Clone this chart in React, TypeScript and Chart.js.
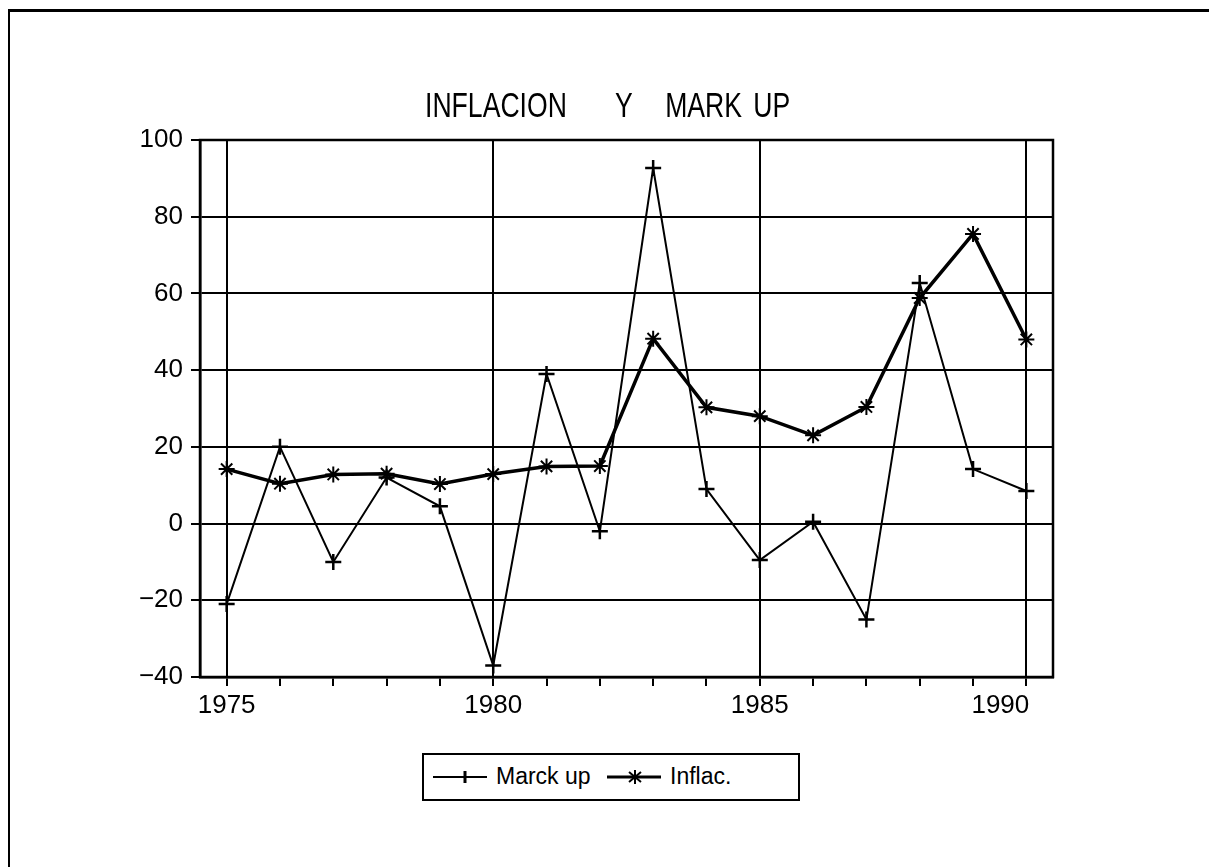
import React, { useEffect, useRef } from "react";
import { Chart, registerables } from "chart.js";

Chart.register(...registerables);

const years = [1975, 1976, 1977, 1978, 1979, 1980, 1981, 1982, 1983, 1984, 1985, 1986, 1987, 1988, 1989, 1990];
const markUp = [-21, 20, -10, 12, 4.5, -37, 39, -2, 92.7, 9, -9.5, 0.5, -25, 62.7, 14.2, 8.5];
const inflac = [14.2, 10.4, 12.8, 13, 10.3, 12.9, 14.9, 15, 48.2, 30.3, 28, 23, 30.4, 58.8, 75.5, 48];
const yTicks = [-40, -20, 0, 20, 40, 60, 80, 100];
const xLabelYears = [1975, 1980, 1985, 1990];
const seriesNames = ["Marck up", "Inflac."];
const titleWords = ["INFLACION", "Y", "MARK", "UP"];

const W = 1209;
const H = 867;

const framePlugin = {
  id: "frameBox",
  afterDraw(chart: any) {
    const { ctx, chartArea } = chart;
    ctx.save();
    ctx.strokeStyle = "#000";
    ctx.lineWidth = 2.5;
    ctx.strokeRect(chartArea.left, chartArea.top, chartArea.right - chartArea.left, chartArea.bottom - chartArea.top);
    ctx.restore();
  },
};

function LegendIcon({ kind }: { kind: "cross" | "star" }) {
  return (
    <svg width="54" height="20" style={{ display: "block" }}>
      <line x1="0" y1="10" x2="54" y2="10" stroke="#000" strokeWidth={kind === "star" ? 3 : 2} />
      {kind === "cross" ? (
        <g stroke="#000" strokeWidth="3">
          <line x1="32" y1="4" x2="32" y2="16" />
        </g>
      ) : (
        <g stroke="#000" strokeWidth="2">
          <line x1="28" y1="3" x2="28" y2="17" />
          <line x1="22" y1="5" x2="34" y2="15" />
          <line x1="22" y1="15" x2="34" y2="5" />
        </g>
      )}
    </svg>
  );
}

const titleOffsets = [0, 250, 316, 432];

export default function App() {
  const canvasRef = useRef<HTMLCanvasElement | null>(null);

  useEffect(() => {
    if (!canvasRef.current) return;
    const chart = new Chart(canvasRef.current, {
      type: "line",
      data: {
        datasets: [
          {
            label: seriesNames[0],
            data: years.map((x, i) => ({ x, y: markUp[i] })),
            borderColor: "#000",
            backgroundColor: "#000",
            borderWidth: 2,
            pointStyle: "cross",
            pointRadius: 8,
            pointBorderWidth: 2.5,
            pointBorderColor: "#000",
            tension: 0,
            fill: false,
          },
          {
            label: seriesNames[1],
            data: years.map((x, i) => ({ x, y: inflac[i] })),
            borderColor: "#000",
            backgroundColor: "#000",
            borderWidth: 3.5,
            pointStyle: "star",
            pointRadius: 8,
            pointBorderWidth: 2,
            pointBorderColor: "#000",
            tension: 0,
            fill: false,
          },
        ],
      },
      options: {
        animation: false,
        responsive: false,
        devicePixelRatio: 1,
        layout: { padding: { left: 0, right: 156, top: 140, bottom: 140 } },
        plugins: {
          legend: { display: false },
          tooltip: { enabled: false },
          title: { display: false },
        },
        scales: {
          x: {
            type: "linear",
            min: 1974.5,
            max: 1990.5,
            afterBuildTicks: (scale: any) => {
              scale.ticks = years.map((v) => ({ value: v }));
            },
            afterFit: (scale: any) => {
              scale.height = 50;
            },
            ticks: {
              autoSkip: false,
              maxRotation: 0,
              color: "#000",
              padding: 4,
              font: { family: "'Liberation Sans', Arial, sans-serif", size: 26 },
              callback: (v: any) => {
                const n = Number(v);
                if (!xLabelYears.includes(n)) return "";
                return n === 1990 ? String(n) + "\u2003\u2003" : String(n);
              },
            },
            grid: {
              color: (ctx: any) => (ctx.tick && xLabelYears.includes(ctx.tick.value) ? "#000" : "rgba(0,0,0,0)"),
              tickColor: "#000",
              lineWidth: 2,
              tickLength: 9,
              drawTicks: true,
            },
            border: { display: true, color: "#000", width: 2.5 },
          },
          y: {
            type: "linear",
            min: -40,
            max: 100,
            afterBuildTicks: (scale: any) => {
              scale.ticks = yTicks.map((v) => ({ value: v }));
            },
            afterFit: (scale: any) => {
              scale.width = 200;
            },
            ticks: {
              color: "#000",
              padding: 8,
              font: { family: "'Liberation Sans', Arial, sans-serif", size: 26 },
              callback: (v: any) => {
                const n = Number(v);
                return n < 0 ? "\u2212" + String(-n) : String(n);
              },
            },
            grid: {
              color: "#000",
              lineWidth: 2,
              tickLength: 9,
              tickColor: "#000",
            },
            border: { display: true, color: "#000", width: 2.5 },
          },
        },
      },
      plugins: [framePlugin],
    } as any);
    return () => chart.destroy();
  }, []);

  return (
    <div style={{ position: "fixed", left: 0, top: 0, width: W, height: H, overflow: "hidden", background: "#fff" }}>
      <div
        style={{
          position: "absolute",
          left: 8,
          top: 9,
          width: 1400,
          height: 1000,
          borderTop: "3px solid #000",
          borderLeft: "2px solid #000",
        }}
      />
      <canvas ref={canvasRef} width={W} height={H} style={{ position: "absolute", left: 0, top: 0, width: W, height: H }} />
      <div
        style={{
          position: "absolute",
          left: 425,
          top: 87,
          height: 35,
          width: 600,
          transform: "scaleX(0.76)",
          transformOrigin: "0 0",
          fontFamily: "'Liberation Sans', Arial, sans-serif",
          fontSize: 35,
          lineHeight: "35px",
          color: "#000",
          whiteSpace: "nowrap",
        }}
      >
        {titleWords.map((w, i) => (
          <span key={w} style={{ position: "absolute", left: titleOffsets[i], top: 0 }}>
            {w}
          </span>
        ))}
      </div>
      <div
        style={{
          position: "absolute",
          left: 422,
          top: 753,
          width: 378,
          height: 48,
          boxSizing: "border-box",
          border: "2px solid #000",
          background: "#fff",
          fontFamily: "'Liberation Sans', Arial, sans-serif",
          fontSize: 23,
          color: "#000",
        }}
      >
        <div style={{ position: "absolute", left: 9, top: 12 }}>
          <LegendIcon kind="cross" />
        </div>
        <span style={{ position: "absolute", left: 72, top: 8, lineHeight: "26px" }}>{seriesNames[0]}</span>
        <div style={{ position: "absolute", left: 183, top: 12 }}>
          <LegendIcon kind="star" />
        </div>
        <span style={{ position: "absolute", left: 246, top: 8, lineHeight: "26px" }}>{seriesNames[1]}</span>
      </div>
    </div>
  );
}
